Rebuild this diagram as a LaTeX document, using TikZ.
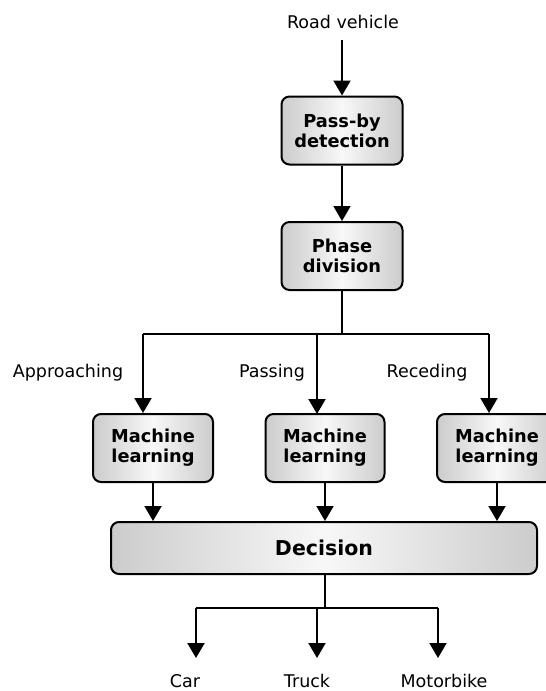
\documentclass[tikz,border=0pt]{standalone}
\usepackage{fontspec}
\setmainfont{DejaVu Sans}
\usetikzlibrary{arrows.meta}
\begin{document}
\begin{tikzpicture}[x=1pt,y=-1pt,
  box/.style={draw=black, line width=2pt, rounded corners=8pt, left color=gray!40, right color=gray!40, middle color=gray!6, align=center, inner sep=0pt, font=\fontsize{17.8}{20}\selectfont\bfseries, minimum height=68pt},
  lab/.style={font=\fontsize{17.5}{20}\selectfont, inner sep=0pt},
  conn/.style={line width=2pt},
  arr/.style={conn, -{Triangle[length=15pt,width=17pt]}}]
\useasboundingbox (0,0) rectangle (546,691);
\node[lab] (rv) at (343,22) {Road vehicle};
\node[box, minimum width=121pt] (pbd) at (342,130.5) {Pass-by\\detection};
\node[box, minimum width=121pt] (pd) at (342,256) {Phase\\division};
\node[box, minimum width=120pt] (ml1) at (153,448) {Machine\\learning};
\node[box, minimum width=119pt] (ml2) at (325,448) {Machine\\learning};
\node[box, minimum width=120pt] (ml3) at (497,448) {Machine\\learning};
\node[box, minimum width=426pt, minimum height=52pt, font=\fontsize{20.5}{24}\selectfont\bfseries] (dec) at (324,548) {Decision};
\node[lab] (l1) at (68,373) {Approaching};
\node[lab] (l2) at (272,373) {Passing};
\node[lab] (l3) at (427,373) {Receding};
\node[lab, anchor=base] (car) at (185,687) {Car};
\node[lab, anchor=base] (truck) at (307,687) {Truck};
\node[lab, anchor=base] (moto) at (444,687) {Motorbike};
\coordinate (top) at (342,40);
\coordinate (j1) at (342,334);
\coordinate (j2) at (325,608);
\coordinate (a1) at (143,334);
\coordinate (a3) at (489,334);
\coordinate (b1) at (196,608);
\coordinate (b3) at (438,608);
\draw[arr] (top) -- (pbd.north);
\draw[arr] (pbd.south) -- (pd.north);
\draw[conn] (pd.south) -- (j1);
\draw[conn] (a1) -- (a3);
\draw[arr] (a1) -- (a1 |- ml1.north);
\draw[arr] (317,334) -- (317,414);
\draw[arr] (a3) -- (a3 |- ml3.north);
\draw[arr] (ml1.south) -- (ml1.south |- dec.north);
\draw[arr] (ml2.south) -- (ml2.south |- dec.north);
\draw[arr] (ml3.south) -- (ml3.south |- dec.north);
\draw[conn] (dec.south -| j2) -- (j2);
\draw[conn] (b1) -- (b3);
\draw[arr] (b1) -- (196,658);
\draw[arr] (317,608) -- (317,658);
\draw[arr] (b3) -- (438,658);
\end{tikzpicture}
\end{document}
